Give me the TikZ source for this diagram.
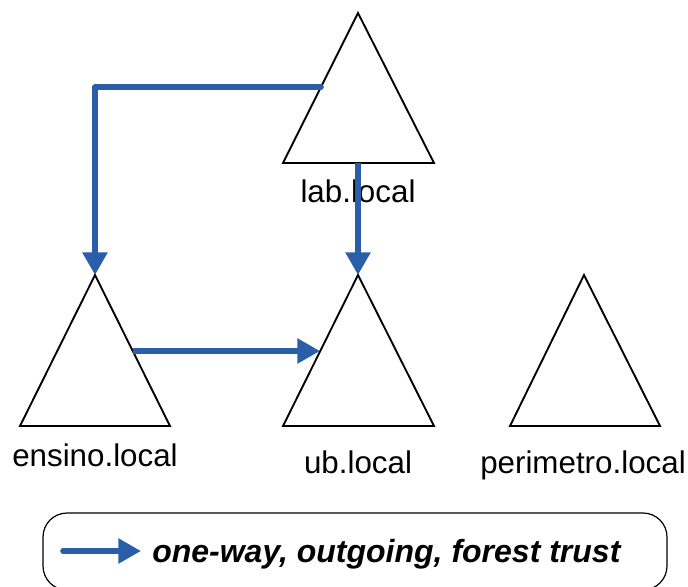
\documentclass[tikz,border=0pt]{standalone}
\usepackage{fontspec}
\setmainfont{Liberation Sans}
\usetikzlibrary{arrows.meta}
\definecolor{trustblue}{RGB}{42,94,168}
\tikzset{
  forestroot/.style={draw=black, line width=1.4pt, line join=miter},
  trustarrow/.style={draw=trustblue, line width=4.2pt, line join=round,
    -{Triangle[length=17pt,width=18pt]}},
  domname/.style={font=\fontsize{23.5}{28}\selectfont, anchor=base, inner sep=0pt},
  legendbox/.style={draw=black, line width=0.9pt, rounded corners=18pt},
}
\begin{document}
\begin{tikzpicture}[x=0.75pt,y=-0.75pt]
  \useasboundingbox (0,0) rectangle (688,586);

  % forest roots
  \draw[forestroot] (358,13) coordinate (labTop) -- (434,163) -- (283,163) -- cycle;
  \draw[forestroot] (95,275) coordinate (ensTop) -- (170,426) -- (20,426) -- cycle;
  \draw[forestroot] (358,275) coordinate (ubTop) -- (434,426) -- (283,426) -- cycle;
  \draw[forestroot] (584,275) coordinate (perTop) -- (660,426) -- (510,426) -- cycle;

  % attachment points on the triangle edges
  \coordinate (labLeft) at (321,87);
  \coordinate (labBase) at (358,163);
  \coordinate (ensRight) at (133,351);
  \coordinate (ubLeft) at (320,351);

  % domain names
  \node[domname] (labName) at (358,202) {lab.local};
  \node[domname] (ensName) at (95,466) {ensino.local};
  \node[domname] (ubName) at (358,473) {ub.local};
  \node[domname] (perName) at (583,473) {perimetro.local};

  % trusts
  \draw[trustarrow, line cap=round] (labLeft) -- (95,87) -- (ensTop);
  \draw[trustarrow] (labBase) -- (ubTop);
  \draw[trustarrow] (ensRight) -- (ubLeft);

  % legend
  \draw[legendbox] (43,513) rectangle (667,590);
  \coordinate (keyStart) at (63,551);
  \coordinate (keyEnd) at (141,551);
  \draw[trustarrow, line cap=round] (keyStart) -- (keyEnd);
  \node[anchor=base west, inner sep=0pt, font=\fontsize{24}{28}\selectfont\bfseries\itshape]
    (keyText) at (152,562) {one-way, outgoing, forest trust};
\end{tikzpicture}
\end{document}
